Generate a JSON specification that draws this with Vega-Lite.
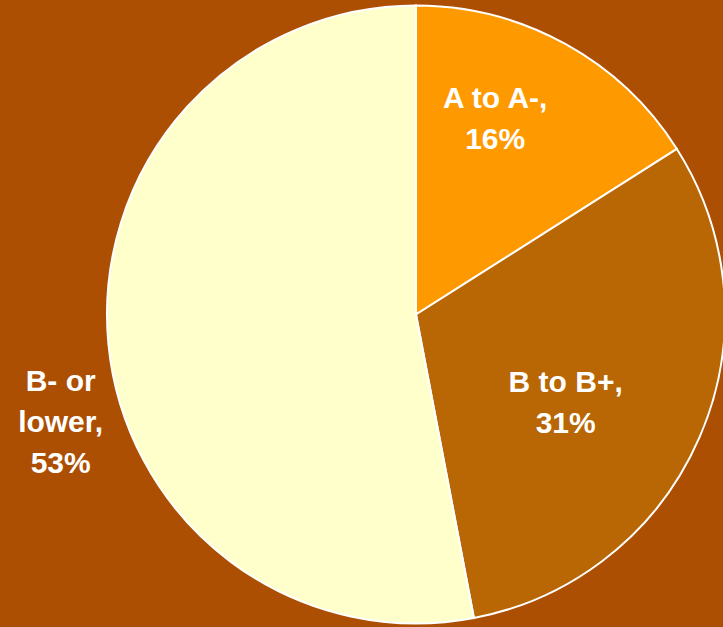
{
  "$schema": "https://vega.github.io/schema/vega-lite/v6.json",
  "autosize": "none",
  "width": 614,
  "height": 625,
  "padding": {"left": 109, "top": 2, "right": 0, "bottom": 0},
  "background": "#AC4F02",
  "view": {"stroke": null},
  "config": {"text": {"lineBreak": "\n"}},
  "data": {
    "values": [
      {"category": "A to A-", "rank": 1, "value": 16, "label": "A to A-,\n16%"},
      {"category": "B to B+", "rank": 2, "value": 31, "label": "B to B+,\n31%"},
      {"category": "B- or lower", "rank": 3, "value": 53, "label": "B- or\nlower,\n53%"}
    ]
  },
  "encoding": {
    "theta": {"field": "value", "type": "quantitative", "stack": true},
    "order": {"field": "rank", "type": "quantitative", "sort": "ascending"}
  },
  "layer": [
    {
      "mark": {"type": "arc", "outerRadius": 309, "stroke": "#FFFFFF", "strokeWidth": 2},
      "encoding": {
        "color": {
          "field": "category",
          "type": "nominal",
          "sort": null,
          "scale": {"domain": ["A to A-", "B to B+", "B- or lower"], "range": ["#FF9900", "#B96604", "#FFFFCC"]},
          "legend": null
        }
      }
    },
    {
      "mark": {"type": "text", "radius": 210, "dx": -22, "dy": -31, "fontSize": 30, "fontWeight": "bold", "font": "Liberation Sans", "color": "#FFFFFF", "lineHeight": 41, "align": "center", "baseline": "middle"},
      "encoding": {
        "text": {"condition": {"test": "datum.category === 'A to A-'", "field": "label"}, "value": ""}
      }
    },
    {
      "mark": {"type": "text", "radius": 174, "dx": -10, "dy": -1, "fontSize": 30, "fontWeight": "bold", "font": "Liberation Sans", "color": "#FFFFFF", "lineHeight": 41, "align": "center", "baseline": "middle"},
      "encoding": {
        "text": {"condition": {"test": "datum.category === 'B to B+'", "field": "label"}, "value": ""}
      }
    },
    {
      "mark": {"type": "text", "radius": 370, "dx": 13, "dy": 33, "fontSize": 30, "fontWeight": "bold", "font": "Liberation Sans", "color": "#FFFFFF", "lineHeight": 41, "align": "center", "baseline": "middle"},
      "encoding": {
        "text": {"condition": {"test": "datum.category === 'B- or lower'", "field": "label"}, "value": ""}
      }
    }
  ]
}
